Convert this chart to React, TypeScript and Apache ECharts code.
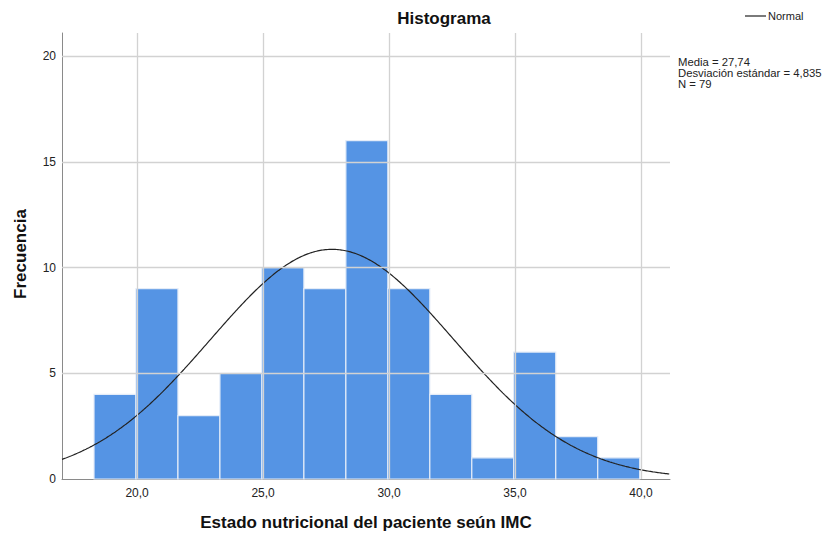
import React, { useEffect, useRef } from "react";
import * as echarts from "echarts";

// Data
const frequencies = [4, 9, 3, 5, 10, 9, 16, 9, 4, 1, 6, 2, 1];
const binStart = 18.29;
const binWidth = 1.666;
const xTicks = [20, 25, 30, 35, 40];
const yTicks = [0, 5, 10, 15, 20];
const mean = 27.74;
const stdDev = 4.835;
const n = 79;
const statsLines = ["Media = 27,74", "Desviación estándar = 4,835", "N = 79"];

const X_MIN = 17.02;
const X_MAX = 41.15;
const Y_MAX = 21.09;

const FONT = "Liberation Sans, Arial, sans-serif";

export default function App() {
  const ref = useRef<HTMLDivElement>(null);

  useEffect(() => {
    if (!ref.current) return;
    const chart = echarts.init(ref.current, undefined, { renderer: "svg" });

    const barData = frequencies.map((f, i) => [
      binStart + i * binWidth,
      binStart + (i + 1) * binWidth,
      f,
    ]);

    // Normal curve scaled to histogram counts from the stated mean/sd/N
    const curve: number[][] = [];
    const scale = (n * binWidth) / (stdDev * Math.sqrt(2 * Math.PI));
    for (let x = X_MIN; x <= X_MAX + 1e-9; x += 0.05) {
      const z = (x - mean) / stdDev;
      curve.push([x, scale * Math.exp(-0.5 * z * z)]);
    }

    const gridLines = [
      ...xTicks.map((v) => ({ xAxis: v })),
      ...yTicks.filter((v) => v > 0).map((v) => ({ yAxis: v })),
    ];

    chart.setOption({
      animation: false,
      grid: { left: 62, right: 159, top: 33, bottom: 57, containLabel: false },
      xAxis: {
        type: "value",
        min: X_MIN,
        max: X_MAX,
        splitLine: { show: false },
        axisTick: { show: false },
        axisLine: { show: true, onZero: false, lineStyle: { color: "#8a8a8a", width: 1 } },
        axisLabel: {
          customValues: xTicks,
          formatter: (v: number) => v.toFixed(1).replace(".", ","),
          color: "#222",
          fontFamily: FONT,
          fontSize: 12,
          margin: 8,
        },
      },
      yAxis: {
        type: "value",
        min: 0,
        max: Y_MAX,
        splitLine: { show: false },
        axisTick: { show: false },
        axisLine: { show: true, lineStyle: { color: "#8a8a8a", width: 1 } },
        axisLabel: {
          customValues: yTicks,
          formatter: (v: number) => String(Math.round(v)),
          color: "#222",
          fontFamily: FONT,
          fontSize: 12,
          margin: 6,
        },
      },
      series: [
        {
          type: "line",
          data: [],
          silent: true,
          z: 1,
          markLine: {
            silent: true,
            symbol: ["none", "none"],
            label: { show: false },
            lineStyle: { color: "#d2d2d2", width: 1.3, type: "solid" },
            emphasis: { disabled: true },
            data: gridLines,
          },
        },
        {
          type: "custom",
          z: 2,
          data: barData,
          renderItem: (params: any, api: any) => {
            const s = api.coord([api.value(0), api.value(2)]);
            const e = api.coord([api.value(1), 0]);
            return {
              type: "rect",
              shape: { x: s[0], y: s[1], width: e[0] - s[0], height: e[1] - s[1] },
              style: { fill: "#5594e4", stroke: "#e4ecf8", lineWidth: 1.2 },
            };
          },
          encode: { x: [0, 1], y: 2 },
        },
        {
          type: "line",
          name: "Normal",
          z: 3,
          data: curve,
          showSymbol: false,
          smooth: false,
          lineStyle: { color: "#222", width: 1.2 },
          silent: true,
        },
      ],
      graphic: [
        {
          type: "text",
          x: 444,
          y: 18,
          style: {
            text: "Histograma",
            font: `bold 17px ${FONT}`,
            fill: "#111",
            align: "center",
            verticalAlign: "middle",
          },
        },
        {
          type: "text",
          x: 366,
          y: 522,
          style: {
            text: "Estado nutricional del paciente seún IMC",
            font: `bold 17px ${FONT}`,
            fill: "#111",
            align: "center",
            verticalAlign: "middle",
          },
        },
        {
          type: "text",
          x: 20,
          y: 254,
          rotation: Math.PI / 2,
          style: {
            text: "Frecuencia",
            font: `bold 17px ${FONT}`,
            fill: "#111",
            align: "center",
            verticalAlign: "middle",
          },
        },
        {
          type: "line",
          shape: { x1: 745, y1: 16, x2: 766, y2: 16 },
          style: { stroke: "#222", lineWidth: 1.2 },
        },
        {
          type: "text",
          x: 768,
          y: 16,
          style: { text: "Normal", font: `11px ${FONT}`, fill: "#222", verticalAlign: "middle" },
        },
        ...statsLines.map((t, i) => ({
          type: "text",
          x: 678,
          y: 62 + i * 11,
          style: { text: t, font: `11.3px ${FONT}`, fill: "#222", verticalAlign: "middle" },
        })),
      ],
    });

    return () => chart.dispose();
  }, []);

  return (
    <div
      ref={ref}
      style={{ position: "fixed", left: 0, top: 0, width: 829, height: 536, background: "#fff" }}
    />
  );
}
